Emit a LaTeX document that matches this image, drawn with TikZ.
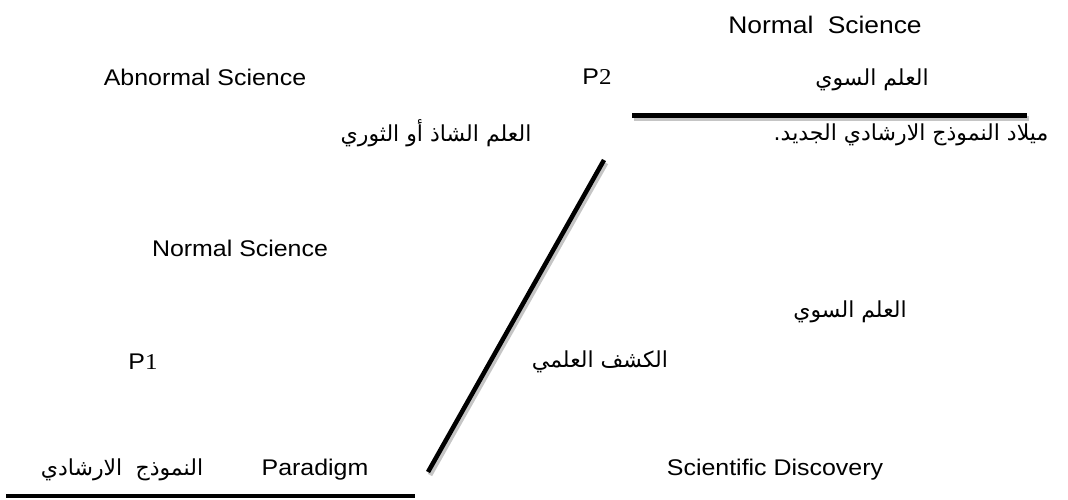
\documentclass[tikz,border=0pt]{standalone}
\usepackage{fontspec}
\setmainfont[FakeStretch=1.1]{Liberation Sans}
\newfontfamily\digitfont[FakeStretch=1.1]{Liberation Serif}
\newfontfamily\arabicfont[Script=Arabic]{DejaVu Sans}
\TeXXeTstate=1
\begin{document}
\begin{tikzpicture}[x=0.75pt,y=-0.75pt,
  lat/.style={font=\fontsize{17}{20}\selectfont, inner sep=0pt},
  latbig/.style={font=\fontsize{18}{21}\selectfont, inner sep=0pt},
  ara/.style={font=\arabicfont\fontsize{16.5}{20}\selectfont, inner sep=0pt},
  bar/.style={line width=3.4pt, black},
  barshadow/.style={line width=3.6pt, black!45, opacity=0.5}]
\useasboundingbox (0,0) rectangle (1068,500);
% line end points
\coordinate (b1) at (6,496);
\coordinate (b2) at (415,496);
\coordinate (t1) at (632,115.5);
\coordinate (t2) at (1027,115.5);
\coordinate (d1) at (428,472);
\coordinate (d2) at (604,160);
% shadows
\draw[barshadow] ([shift={(2,3)}]t1) -- ([shift={(2,3)}]t2);
\draw[barshadow] ([shift={(2,3)}]d1) -- ([shift={(2,3)}]d2);
% bars
\draw[bar] (b1) -- (b2);
\draw[bar] (t1) -- (t2);
\draw[bar] (d1) -- (d2);
% texts
\node[latbig] (ns1) at (825,25) {Normal\hspace{0.6em}Science};
\node[lat] (abn) at (205,77) {Abnormal Science};
\node[lat] (p2) at (597,77) {P{\digitfont 2}};
\node[ara] (a1) at (872,80) {\beginR العلم السوي\endR};
\node[ara] (a2) at (436,133) {\beginR العلم الشاذ أو الثوري\endR};
\node[ara] (a3) at (911,135) {\beginR ميلاد النموذج الارشادي الجديد.\endR};
\node[lat] (ns2) at (240,248) {Normal Science};
\node[ara] (a4) at (850,312) {\beginR العلم السوي\endR};
\node[lat] (p1) at (143,362) {P{\digitfont 1}};
\node[ara] (a5) at (600,362) {\beginR الكشف العلمي\endR};
\node[lat] (par) at (315,470) {Paradigm};
\node[ara] (a6) at (122,470) {\beginR النموذج\hspace{0.6em}الارشادي\endR};
\node[lat] (sd) at (775,470) {Scientific Discovery};
\end{tikzpicture}
\end{document}
